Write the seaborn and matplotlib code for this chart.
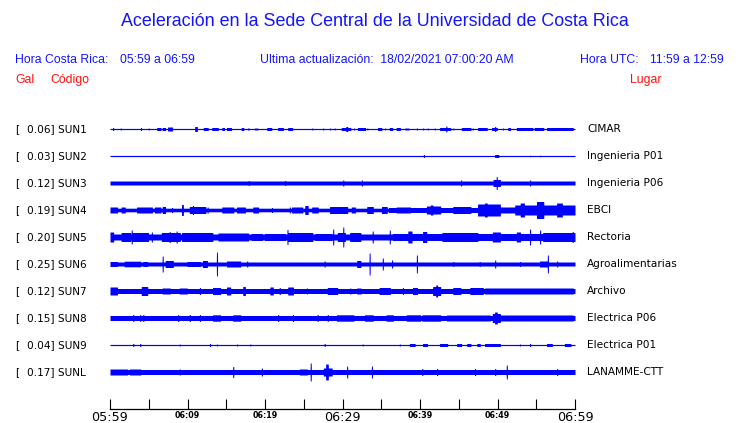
import numpy as np
import seaborn as sns
import matplotlib.pyplot as plt
from matplotlib.transforms import blended_transform_factory

# station info
codes = ['SUN1', 'SUN2', 'SUN3', 'SUN4', 'SUN5', 'SUN6', 'SUN7', 'SUN8', 'SUN9', 'SUNL']
gal = [0.06, 0.03, 0.12, 0.19, 0.20, 0.25, 0.12, 0.15, 0.04, 0.17]
places = ['CIMAR', 'Ingenieria P01', 'Ingenieria P06', 'EBCI', 'Rectoria',
          'Agroalimentarias', 'Archivo', 'Electrica P06', 'Electrica P01', 'LANAMME-CTT']

# background amplitude of each trace (arbitrary units)
base_amp = [0.6, 0.6, 2.0, 1.8, 3.0, 2.0, 2.5, 2.5, 0.6, 2.5]

# bursts: (start minute, end minute, peak amplitude)
sun1_bursts = [(0.4, 0.4, 1.5), (1.4, 1.4, 1.0), (4.0, 4.0, 1.5), (5.0, 5.0, 1.0), (6.1, 6.5, 1.5),
               (6.8, 7.1, 1.5), (7.5, 8.0, 2.0), (11.0, 11.2, 2.5), (12.1, 12.6, 1.5),
               (13.2, 13.9, 1.5), (14.5, 14.7, 1.5), (15.1, 15.6, 1.5), (17.0, 17.2, 1.5),
               (17.8, 17.9, 1.0), (18.7, 19.0, 1.0), (20.3, 20.8, 1.5), (21.7, 22.3, 1.5),
               (23.0, 23.5, 1.5), (26.1, 26.1, 1.0), (27.5, 27.5, 1.0), (28.4, 28.4, 1.0),
               (29.0, 29.0, 1.0), (29.9, 31.0, 1.5), (30.5, 30.6, 2.5), (31.5, 31.5, 1.0),
               (32.0, 32.9, 1.5), (33.2, 33.2, 1.0), (34.6, 35.0, 1.5), (35.5, 35.5, 1.0),
               (36.1, 36.4, 1.5), (37.0, 37.4, 1.5), (38.1, 38.5, 1.0), (39.6, 39.6, 1.0),
               (40.4, 40.4, 1.0), (41.0, 41.0, 1.0), (41.9, 41.9, 1.0), (42.6, 43.9, 1.5),
               (43.4, 43.4, 3.0), (44.3, 44.3, 1.0), (45.4, 46.5, 1.5), (46.8, 46.8, 1.0),
               (47.5, 48.6, 1.5), (49.3, 49.9, 1.5), (49.7, 49.7, 2.5), (50.7, 50.7, 1.0),
               (51.4, 51.6, 1.5), (52.5, 53.2, 1.5), (53.3, 54.5, 1.5), (54.8, 55.9, 1.5),
               (56.4, 57.7, 1.5), (57.8, 59.7, 1.5)]
sun2_bursts = [(40.5, 40.5, 1.5), (49.7, 50.1, 1.5), (54.2, 54.2, 0.8), (55.5, 55.5, 0.8)]
sun3_bursts = [(17.9, 17.9, 2.5), (22.6, 22.6, 2.5), (30.1, 30.1, 3.0), (32.5, 32.5, 3.0),
               (45.3, 45.3, 3.0), (49.5, 50.3, 3.5), (49.9, 49.9, 6.5), (54.2, 54.2, 3.0)]
sun4_bursts = [(0.0, 0.9, 3.0), (1.5, 1.9, 3.0), (3.5, 5.4, 3.0), (5.8, 6.5, 3.0), (6.8, 7.1, 3.5),
               (8.0, 8.0, 2.5), (9.3, 9.4, 5.5), (10.3, 12.3, 3.5), (10.7, 10.7, 4.5), (12.6, 12.6, 3.0),
               (14.5, 15.9, 3.0), (16.4, 17.4, 3.0), (18.5, 19.1, 3.0), (20.9, 20.9, 2.5),
               (23.2, 23.2, 3.0), (23.5, 24.8, 3.0), (25.2, 25.5, 4.5), (26.1, 26.8, 3.0),
               (28.4, 30.6, 3.5), (31.2, 31.6, 3.0), (33.2, 33.9, 3.5), (35.1, 35.7, 3.5),
               (36.0, 60.0, 2.5), (37.0, 38.7, 3.0), (40.9, 42.6, 4.0), (41.4, 41.6, 5.0),
               (44.3, 46.5, 3.5), (47.5, 50.3, 6.0), (48.4, 48.6, 7.0), (50.3, 52.3, 3.0),
               (52.3, 60.0, 5.0), (53.0, 53.4, 7.0), (55.1, 55.9, 8.5), (57.7, 58.3, 7.0)]
sun5_bursts = [(0.0, 0.4, 5.0), (1.5, 2.6, 4.5), (2.8, 2.8, 7.0), (2.9, 4.9, 4.5), (5.4, 5.4, 5.0),
               (6.7, 9.0, 4.5), (7.7, 7.7, 5.5), (8.6, 8.6, 6.0), (9.3, 13.2, 4.5), (14.0, 17.8, 4.0),
               (18.3, 19.6, 3.5), (20.0, 22.6, 3.5), (22.9, 22.9, 7.5), (23.0, 26.1, 4.5),
               (26.5, 28.6, 3.5), (28.8, 28.8, 8.0), (29.4, 30.3, 4.5), (30.1, 30.1, 10.0),
               (31.0, 32.3, 4.5), (33.9, 33.9, 6.0), (36.1, 36.1, 7.0), (36.5, 60.0, 3.5),
               (38.5, 38.9, 6.0), (40.4, 40.8, 5.5), (42.9, 47.4, 4.5), (49.4, 50.3, 5.0),
               (52.5, 52.9, 5.0), (54.2, 54.2, 8.0), (55.5, 55.5, 7.0), (55.9, 60.0, 4.5),
               (59.7, 59.7, 5.5)]
sun6_bursts = [(0.0, 0.9, 2.5), (1.9, 3.9, 2.8), (4.3, 4.8, 2.5), (6.8, 6.8, 8.0), (7.2, 8.1, 3.5),
               (10.0, 11.6, 2.5), (12.0, 12.5, 3.5), (13.8, 13.8, 12.0), (15.1, 16.8, 3.0),
               (17.7, 17.7, 3.0), (27.7, 27.7, 3.0), (31.9, 32.3, 3.5), (33.5, 33.5, 11.0),
               (35.2, 35.2, 6.0), (36.4, 36.4, 4.0), (39.6, 39.6, 9.0), (44.3, 44.3, 2.5),
               (47.7, 47.7, 2.5), (49.7, 49.7, 4.0), (52.9, 52.9, 2.5), (55.5, 56.4, 3.0),
               (56.5, 56.5, 9.0), (57.7, 57.7, 3.0)]
sun7_bursts = [(0.0, 0.9, 4.0), (4.1, 4.8, 4.5), (6.8, 7.7, 3.0), (9.0, 9.9, 3.0), (11.6, 11.6, 3.5),
               (13.3, 14.2, 3.5), (15.1, 15.5, 4.0), (17.2, 17.4, 4.5), (20.7, 21.0, 4.0),
               (21.9, 21.9, 3.5), (23.0, 23.6, 4.0), (25.4, 25.4, 3.0), (28.1, 29.3, 3.5),
               (31.0, 31.0, 3.0), (31.9, 32.3, 3.0), (34.8, 36.1, 3.5), (37.8, 37.8, 3.5),
               (39.1, 39.6, 3.5), (41.7, 42.6, 4.5), (42.1, 42.2, 6.0), (44.3, 45.2, 3.5),
               (46.5, 48.1, 3.5), (48.4, 59.7, 3.0)]
sun8_bursts = [(3.0, 3.0, 3.5), (3.9, 3.9, 3.5), (4.3, 4.3, 3.5), (8.8, 8.8, 3.5), (10.3, 10.3, 3.5),
               (11.6, 11.6, 3.5), (13.3, 14.2, 3.2), (15.9, 16.8, 3.2), (21.7, 21.7, 3.5),
               (23.6, 23.6, 3.5), (26.8, 26.8, 3.5), (28.1, 28.1, 3.5), (29.3, 31.4, 3.2),
               (32.9, 33.9, 3.2), (35.7, 36.5, 3.2), (38.3, 40.0, 3.2), (40.3, 42.6, 3.2),
               (43.5, 49.0, 3.0), (49.4, 50.3, 4.5), (49.7, 49.9, 6.0), (50.3, 59.7, 3.0)]
sun9_bursts = [(3.0, 3.0, 1.5), (3.9, 3.9, 1.5), (9.0, 9.0, 1.0), (12.9, 12.9, 1.5), (13.8, 13.8, 1.0),
               (16.4, 16.4, 1.0), (18.1, 18.1, 1.0), (27.7, 27.7, 1.5), (32.6, 32.6, 1.0),
               (37.4, 37.4, 1.0), (38.7, 39.3, 1.5), (40.4, 40.9, 1.5), (42.6, 43.5, 1.5),
               (44.8, 45.3, 1.5), (46.1, 46.5, 1.5), (47.4, 47.7, 1.5), (48.4, 50.3, 1.5),
               (52.9, 52.9, 1.0), (54.2, 54.2, 1.5), (56.4, 57.0, 1.5), (58.7, 59.4, 1.5)]
sunl_bursts = [(0.0, 2.2, 3.0), (2.6, 3.9, 3.0), (9.0, 9.0, 3.0), (15.9, 15.9, 5.5), (19.6, 19.6, 4.0),
               (24.5, 25.4, 3.0), (25.9, 25.9, 9.0), (27.6, 28.6, 4.0), (27.9, 28.1, 8.0),
               (30.6, 30.6, 6.0), (33.8, 33.8, 6.0), (40.3, 40.3, 3.5), (42.2, 42.2, 3.5),
               (47.1, 47.1, 3.5), (49.7, 49.7, 3.5), (51.2, 51.2, 7.0), (57.7, 57.7, 3.5)]

bursts = [sun1_bursts, sun2_bursts, sun3_bursts, sun4_bursts, sun5_bursts,
          sun6_bursts, sun7_bursts, sun8_bursts, sun9_bursts, sunl_bursts]

tick_minutes = list(range(0, 61, 5))
tick_text = {0: '05:59', 10: '06:09', 20: '06:19', 30: '06:29', 40: '06:39', 50: '06:49', 60: '06:59'}

blue = '#0000ff'
txt_blue = '#1414ff'
red = '#ff1010'

sns.set_theme(style='white')
plt.rcParams['font.family'] = ['DejaVu Sans']

fig = plt.figure(figsize=(7.4, 4.23), dpi=100)
ax = fig.add_axes([110 / 740, 1 - 409 / 423, 465 / 740, (409 - 115) / 423])

t = np.linspace(0, 60, 3001)
scale = 1 / 27.0
for i in range(len(codes)):
    env = np.full_like(t, base_amp[i])
    for t0, t1, a in bursts[i]:
        m = (t >= t0 - 0.07) & (t <= t1 + 0.07)
        env[m] = np.maximum(env[m], a)
    y0 = -i
    ax.fill_between(t, y0 - env * scale, y0 + env * scale, color=blue, lw=0)

ax.set_xlim(0, 60)
ax.set_ylim(-(409 - 129) / 27, (129 - 115) / 27)
ax.set_yticks([])
sns.despine(ax=ax, left=True)
ax.spines['bottom'].set_color('black')
ax.spines['bottom'].set_linewidth(0.9)

ax.set_xticks(tick_minutes)
ax.set_xticklabels([tick_text.get(m, '') for m in tick_minutes])
ax.tick_params(axis='x', direction='in', length=7.5, width=0.8, color='black', pad=1.5,
               bottom=True, labelcolor='black')
for m, lab in zip(tick_minutes, ax.get_xticklabels()):
    if m in (0, 30, 60):
        lab.set_fontsize(9.2)
    else:
        lab.set_fontsize(5.8)
        lab.set_fontweight('bold')

# station labels
trans = blended_transform_factory(fig.transFigure, ax.transData)
for i in range(len(codes)):
    ax.text(15 / 740, -i, '[', transform=trans, fontsize=7.6, va='center', ha='left', color='black')
    ax.text(27 / 740, -i, f'{gal[i]:.2f}] {codes[i]}', transform=trans, fontsize=7.6,
            va='center', ha='left', color='black')
    ax.text(587 / 740, -i, places[i], transform=trans, fontsize=7.6,
            va='center', ha='left', color='black')

# header
hf = ['Liberation Sans', 'DejaVu Sans']
fig.text(375 / 740, 1 - 22 / 423, 'Aceleración en la Sede Central de la Universidad de Costa Rica',
         ha='center', va='center', fontsize=12.9, color=txt_blue, family=hf)
y2 = 1 - 60 / 423
fig.text(15 / 740, y2, 'Hora Costa Rica:', ha='left', va='center', fontsize=8.8, color=txt_blue, family=hf)
fig.text(120 / 740, y2, '05:59 a 06:59', ha='left', va='center', fontsize=8.8, color=txt_blue, family=hf)
fig.text(260 / 740, y2, 'Ultima actualización:  18/02/2021 07:00:20 AM', ha='left', va='center',
         fontsize=8.8, color=txt_blue, family=hf)
fig.text(580 / 740, y2, 'Hora UTC:', ha='left', va='center', fontsize=8.8, color=txt_blue, family=hf)
fig.text(650 / 740, y2, '11:59 a 12:59', ha='left', va='center', fontsize=8.8, color=txt_blue, family=hf)
y3 = 1 - 80 / 423
fig.text(15 / 740, y3, 'Gal', ha='left', va='center', fontsize=8.8, color=red, family=hf)
fig.text(50 / 740, y3, 'Código', ha='left', va='center', fontsize=8.8, color=red, family=hf)
fig.text(630 / 740, y3, 'Lugar', ha='left', va='center', fontsize=8.8, color=red, family=hf)

fig.savefig('out.png', dpi=100)
